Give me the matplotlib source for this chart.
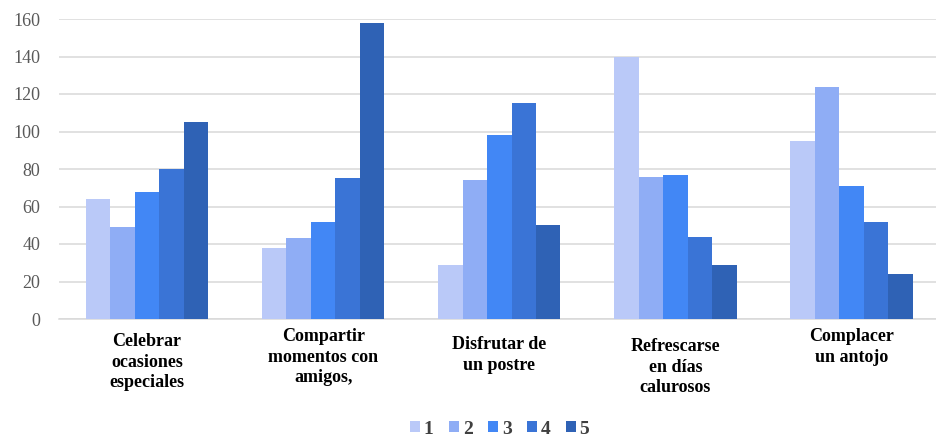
import matplotlib
matplotlib.use("Agg")
import matplotlib.pyplot as plt
import matplotlib.transforms as mtransforms
import numpy as np

categories = [
    "Celebrar\nocasiones\nespeciales",
    "Compartir\nmomentos con\namigos,",
    "Disfrutar de\nun postre",
    "Refrescarse\nen días\ncalurosos",
    "Complacer\nun antojo",
]
series_names = ["1", "2", "3", "4", "5"]
s1 = [64, 38, 29, 140, 95]
s2 = [49, 43, 74, 76, 124]
s3 = [68, 52, 98, 77, 71]
s4 = [80, 75, 115, 44, 52]
s5 = [105, 158, 50, 29, 24]
y_ticks = [0, 20, 40, 60, 80, 100, 120, 140, 160]

series = [s1, s2, s3, s4, s5]
colors = ["#BAC9F8", "#8FADF5", "#4287F5", "#3A74D6", "#2F62B5"]

W, H = 936, 441
fig = plt.figure(figsize=(W / 100, H / 100), dpi=100)
ax = fig.add_axes([59 / W, 1 - 319 / H, 1 - 59 / W, 300 / H])

x = np.arange(len(categories))
bw = 0.139
for i, (vals, c, name) in enumerate(zip(series, colors, series_names)):
    ax.bar(x + (i - 2) * bw, vals, width=bw, color=c, label=name, zorder=3)

ax.set_xlim(-0.5, 4.48)
ax.set_ylim(0, 160)
ax.set_yticks(y_ticks)
ax.set_yticklabels([str(t) for t in y_ticks], family="Liberation Serif",
                   fontsize=13, color="#595959")
ax.tick_params(axis="y", length=0, pad=13.5)
ax.set_xticks([])
ax.grid(axis="y", color="#D9D9D9", linewidth=1.1, zorder=0)
for s in ["top", "right", "left"]:
    ax.spines[s].set_visible(False)
ax.spines["bottom"].set_color("#D9D9D9")
ax.spines["bottom"].set_linewidth(1.1)

# category labels under each group (x in data units, y in figure pixels)
label_tops = [333, 328, 336, 338, 328]
trans = mtransforms.blended_transform_factory(ax.transData, fig.transFigure)
for xi, lab, ty in zip(x, categories, label_tops):
    fig.text(xi, 1 - ty / H, lab, transform=trans, ha="center", va="top",
             family="Liberation Serif", fontweight="bold", fontsize=13,
             color="#000000", linespacing=1.27)

leg = fig.legend(loc="center", bbox_to_anchor=(0.534, 12 / H), ncol=5,
                 frameon=False, handlelength=0.5, handleheight=0.5,
                 handletextpad=0.2, columnspacing=0.8,
                 prop={"family": "Liberation Serif", "weight": "bold", "size": 14})
for t in leg.get_texts():
    t.set_color("#404040")

fig.savefig("out.png", dpi=100)
